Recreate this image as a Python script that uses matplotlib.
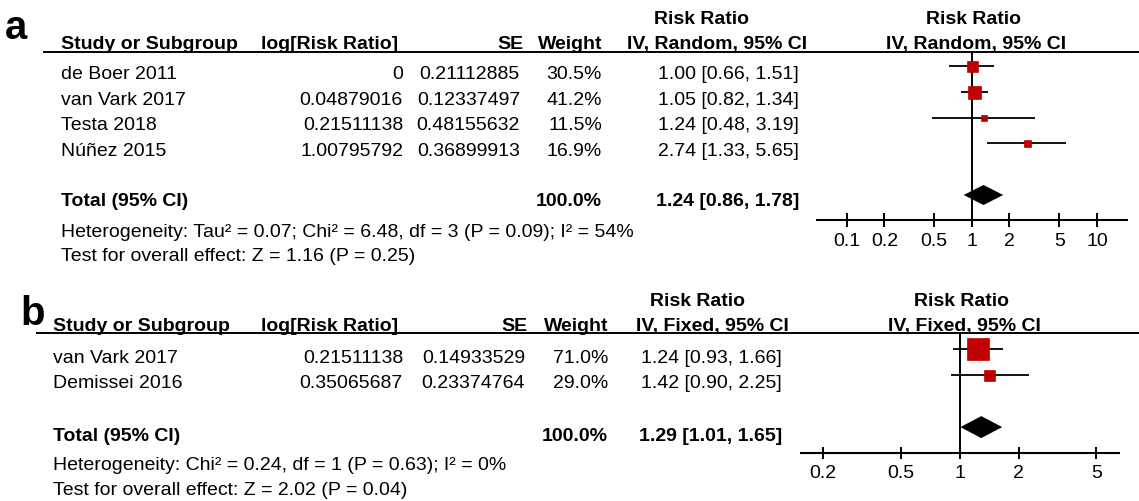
import matplotlib
matplotlib.use("Agg")
import matplotlib.pyplot as plt

plt.rcParams['font.family'] = ['Liberation Sans', 'DejaVu Sans']

# ---- Panel a: random-effects meta-analysis ----
studies_a = ["de Boer 2011", "van Vark 2017", "Testa 2018", "Núñez 2015"]
log_rr_a = ["0", "0.04879016", "0.21511138", "1.00795792"]
se_a = ["0.21112885", "0.12337497", "0.48155632", "0.36899913"]
weight_a = [30.5, 41.2, 11.5, 16.9]
rr_a = [1.00, 1.05, 1.24, 2.74]
lo_a = [0.66, 0.82, 0.48, 1.33]
hi_a = [1.51, 1.34, 3.19, 5.65]
total_weight_a = 100.0
total_a = [1.24, 0.86, 1.78]
het_a = "Heterogeneity: Tau² = 0.07; Chi² = 6.48, df = 3 (P = 0.09); I² = 54%"
test_a = "Test for overall effect: Z = 1.16 (P = 0.25)"
method_a = "IV, Random, 95% CI"
ticks_a = [0.1, 0.2, 0.5, 1, 2, 5, 10]
tick_labels_a = ["0.1", "0.2", "0.5", "1", "2", "5", "10"]

# ---- Panel b: fixed-effect meta-analysis ----
studies_b = ["van Vark 2017", "Demissei 2016"]
log_rr_b = ["0.21511138", "0.35065687"]
se_b = ["0.14933529", "0.23374764"]
weight_b = [71.0, 29.0]
rr_b = [1.24, 1.42]
lo_b = [0.93, 0.90]
hi_b = [1.66, 2.25]
total_weight_b = 100.0
total_b = [1.29, 1.01, 1.65]
het_b = "Heterogeneity: Chi² = 0.24, df = 1 (P = 0.63); I² = 0%"
test_b = "Test for overall effect: Z = 2.02 (P = 0.04)"
method_b = "IV, Fixed, 95% CI"
ticks_b = [0.2, 0.5, 1, 2, 5]
tick_labels_b = ["0.2", "0.5", "1", "2", "5"]

W, H = 1139, 501
FS = 14.0
RED = "#C00000"

fig = plt.figure(figsize=(W / 100, H / 100), dpi=100)
ov = fig.add_axes([0, 0, 1, 1])
ov.set_xlim(0, W)
ov.set_ylim(H, 0)
ov.axis("off")


def px_axes(x0, x1, y0, y1):
    return fig.add_axes([x0 / W, 1 - y1 / H, (x1 - x0) / W, (y1 - y0) / H])


def panel(letter, L, studies, lrr, se, weight, rr, lo, hi, total_weight, total, het, test,
          method, ticks, tick_labels):
    # panel letter
    ov.text(L["letter_x"], L["letter_y"], letter, fontsize=29, fontweight="bold",
            va="baseline", ha="left")
    # header
    hb = L["head_y"]
    bold = dict(fontsize=FS, fontweight="bold", va="baseline")
    ov.text(L["name_x"], hb, "Study or Subgroup", **bold)
    ov.text(L["lrr_hr"], hb, "log[Risk Ratio]", ha="right", **bold)
    ov.text(L["se_hr"], hb, "SE", ha="right", **bold)
    ov.text(L["w_r"], hb, "Weight", ha="right", **bold)
    ov.text(L["ci_hc"], hb, method, ha="center", **bold)
    ov.text(L["rr_hc"], L["top_y"], "Risk Ratio", ha="center", **bold)
    ov.text(L["f_hc"], hb, method, ha="center", **bold)
    ov.text(L["f_rc"], L["top_y"], "Risk Ratio", ha="center", **bold)
    ov.plot([L["line_x"], W], [L["line_y"], L["line_y"]], color="black", lw=1.4,
            solid_capstyle="butt")

    # study rows
    plain = dict(fontsize=FS, va="baseline")
    for i, name in enumerate(studies):
        yb = L["row_y"] + i * L["row_dy"]
        ov.text(L["name_x"], yb, name, **plain)
        ov.text(L["lrr_r"], yb, lrr[i], ha="right", **plain)
        ov.text(L["se_r"], yb, se[i], ha="right", **plain)
        ov.text(L["w_r"], yb, f"{weight[i]:.1f}%", ha="right", **plain)
        ov.text(L["ci_r"], yb, f"{rr[i]:.2f} [{lo[i]:.2f}, {hi[i]:.2f}]", ha="right", **plain)

    # total and summary lines
    ov.text(L["name_x"], L["tot_y"], "Total (95% CI)", **bold)
    ov.text(L["w_r"], L["tot_y"], f"{total_weight:.1f}%", ha="right", **bold)
    ov.text(L["ci_r"], L["tot_y"], f"{total[0]:.2f} [{total[1]:.2f}, {total[2]:.2f}]",
            ha="right", **bold)
    ov.text(L["name_x"], L["het_y"], het, **plain)
    ov.text(L["name_x"], L["test_y"], test, **plain)

    # forest plot
    fx0, fx1, fy0, fy1 = L["forest"]
    ax = px_axes(fx0, fx1, fy0, fy1)
    ax.set_xscale("log")
    ax.set_xlim(*L["xlim"])
    m0, mdy = L["mark_y"], L["mark_dy"]
    ax.set_ylim((fy1 - m0) / mdy, (fy0 - m0) / mdy)
    ax.patch.set_alpha(0)
    for s in ("left", "right", "top"):
        ax.spines[s].set_visible(False)
    ax.spines["bottom"].set_linewidth(1.5)
    ax.set_yticks([])
    ax.set_xticks(ticks)
    ax.set_xticklabels(tick_labels, fontsize=FS)
    ax.minorticks_off()
    ax.tick_params(axis="x", direction="inout", length=L["tick_len"], width=1.4,
                   pad=L["tick_pad"])
    ax.axvline(1, color="black", lw=1.4)

    for i in range(len(studies)):
        ax.plot([lo[i], hi[i]], [i, i], color="black", lw=1.3, solid_capstyle="butt")
        ax.plot(rr[i], i, marker="s", color=RED, markeredgecolor=RED,
                markersize=L["box"][i] * 0.72, markeredgewidth=0.5)

    yt = len(studies) + 1
    hh = L["dia_half"] / mdy
    ax.fill([total[1], total[0], total[2], total[0]],
            [yt, yt - hh, yt, yt + hh], color="black", lw=0)


layout_a = dict(letter_x=5, letter_y=39, head_y=49, top_y=24, line_x=43, line_y=52,
                name_x=61, lrr_hr=398, lrr_r=403, se_hr=523, se_r=520, w_r=602,
                ci_r=799, ci_hc=717, rr_hc=702, f_hc=976, f_rc=974,
                row_y=79, row_dy=25.5, tot_y=206, het_y=237, test_y=261,
                forest=(817, 1127, 52, 220), xlim=(0.0578, 17.4),
                mark_y=66, mark_dy=25.8, box=[11, 13, 6, 7], dia_half=10,
                tick_len=10, tick_pad=4)

layout_b = dict(letter_x=20, letter_y=325, head_y=331, top_y=306, line_x=36, line_y=333,
                name_x=53, lrr_hr=398, lrr_r=403, se_hr=527, se_r=525, w_r=608,
                ci_r=782, ci_hc=712, rr_hc=697, f_hc=964, f_rc=961,
                row_y=363, row_dy=25.5, tot_y=441, het_y=469.5, test_y=495,
                forest=(800.7, 1119, 333, 453), xlim=(0.1543, 6.52),
                mark_y=348.5, mark_dy=26.2, box=[23, 11], dia_half=11,
                tick_len=8.5, tick_pad=4.5)

panel("a", layout_a, studies_a, log_rr_a, se_a, weight_a, rr_a, lo_a, hi_a, total_weight_a,
      total_a, het_a, test_a, method_a, ticks_a, tick_labels_a)
panel("b", layout_b, studies_b, log_rr_b, se_b, weight_b, rr_b, lo_b, hi_b, total_weight_b,
      total_b, het_b, test_b, method_b, ticks_b, tick_labels_b)

fig.savefig("out.png", dpi=100)
